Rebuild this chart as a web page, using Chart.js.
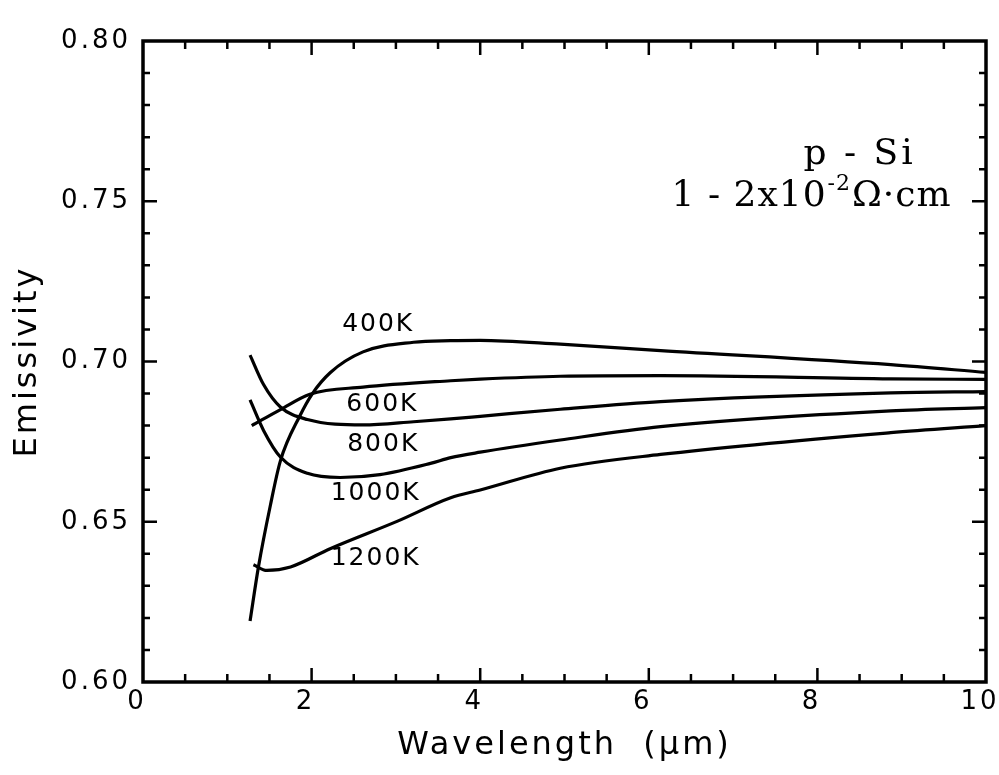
<!DOCTYPE html>
<html>
<head>
<meta charset="utf-8">
<script src="https://cdn.jsdelivr.net/npm/chart.js@4.4.1/dist/chart.umd.min.js"></script>
<style>
  html, body { margin: 0; padding: 0; background: #fff; }
  #wrap { width: 999px; height: 775px; }
</style>
</head>
<body>
<div id="wrap"><canvas id="emissivityChart" width="999" height="775"></canvas></div>
<script>
// Series (wavelength in um, emissivity)
const temps = ['400K', '600K', '800K', '1000K', '1200K'];

const wl400 = [1.27, 1.37, 1.51, 1.63, 1.86, 2.01, 2.22, 2.61, 3.21, 3.65, 4.0, 4.95, 6.14, 8.87, 10.0];
const em400 = [0.619, 0.636, 0.655, 0.669, 0.683, 0.690, 0.6965, 0.703, 0.706, 0.7065, 0.7066, 0.7054, 0.7034, 0.699, 0.6966];

const wl600 = [1.29, 1.63, 1.98, 2.61, 3.65, 4.0, 4.95, 6.14, 8.87, 10.0];
const em600 = [0.680, 0.685, 0.6898, 0.692, 0.694, 0.6945, 0.6954, 0.6956, 0.6946, 0.6944];

const wl800 = [1.27, 1.43, 1.63, 1.95, 2.61, 3.21, 3.65, 4.0, 4.95, 6.14, 8.87, 10.0];
const em800 = [0.702, 0.6928, 0.6858, 0.6819, 0.6802, 0.6812, 0.6821, 0.6829, 0.6851, 0.6875, 0.6902, 0.6906];

const wl1000 = [1.27, 1.43, 1.63, 1.95, 2.34, 2.81, 3.41, 3.65, 4.0, 4.95, 6.14, 8.87, 10.0];
const em1000 = [0.688, 0.6785, 0.6702, 0.6651, 0.6638, 0.6647, 0.6682, 0.670, 0.6717, 0.6755, 0.6797, 0.6846, 0.6856];

const wl1200 = [1.31, 1.47, 1.75, 2.22, 3.02, 3.65, 4.0, 4.95, 6.14, 8.87, 10.0];
const em1200 = [0.6366, 0.6348, 0.6359, 0.6416, 0.6502, 0.6575, 0.6599, 0.6667, 0.671, 0.6778, 0.680];

// where each temperature label sits (data coords)
const labelWl = [2.79, 2.84, 2.85, 2.76, 2.76];
const labelEm = [0.7115, 0.6866, 0.6741, 0.6588, 0.6385];

// axis ticks
const xTicks = [0, 2, 4, 6, 8, 10];
const yTicks = [0.60, 0.65, 0.70, 0.75, 0.80];

const toPoints = (xs, ys) => xs.map((v, i) => ({ x: v, y: ys[i] }));
const seriesWl = [wl400, wl600, wl800, wl1000, wl1200];
const seriesEm = [em400, em600, em800, em1000, em1200];

// frame, inward ticks, curve labels and the material note
const framePlugin = {
    id: 'framePlugin',
    beforeDraw(chart) { chart.ctx.letterSpacing = '3px'; },
    afterDraw(chart) { chart.ctx.letterSpacing = '0px'; },
    afterDatasetsDraw(chart) {
        const { ctx, chartArea: a, scales: { x, y } } = chart;
        ctx.save();
        ctx.strokeStyle = '#000';
        ctx.lineWidth = 3.5;
        ctx.strokeRect(a.left, a.top, a.right - a.left, a.bottom - a.top);

        ctx.lineWidth = 2.5;
        ctx.beginPath();
        for (let i = 1; i < 20; i++) {
            const px = x.getPixelForValue(i * 0.5);
            const len = i % 4 === 0 ? 14 : 8;
            ctx.moveTo(px, a.bottom); ctx.lineTo(px, a.bottom - len);
            ctx.moveTo(px, a.top); ctx.lineTo(px, a.top + len);
        }
        for (let i = 61; i < 80; i++) {
            const py = y.getPixelForValue(i / 100);
            const len = i % 5 === 0 ? 14 : 7;
            ctx.moveTo(a.left, py); ctx.lineTo(a.left + len, py);
            ctx.moveTo(a.right, py); ctx.lineTo(a.right - len, py);
        }
        ctx.stroke();

        // temperature labels
        ctx.fillStyle = '#000';
        ctx.font = '25px "DejaVu Sans"';
        ctx.letterSpacing = '2px';
        ctx.textAlign = 'center';
        ctx.textBaseline = 'middle';
        temps.forEach((t, i) => {
            ctx.fillText(t, x.getPixelForValue(labelWl[i]), y.getPixelForValue(labelEm[i]));
        });

        // material note, top right
        ctx.letterSpacing = '3px';
        ctx.font = '36px "DejaVu Serif"';
        ctx.fillText('p - Si', x.getPixelForValue(8.5), y.getPixelForValue(0.7645));

        ctx.letterSpacing = '1px';
        ctx.textAlign = 'left';
        let cx = x.getPixelForValue(6.27);
        const cy = y.getPixelForValue(0.7515);
        const parts = [
            { t: '1 - 2x10', size: 36, dy: 0 },
            { t: '-2', size: 22, dy: -12 },
            { t: '\u03A9\u00B7cm', size: 36, dy: 0 }
        ];
        parts.forEach(p => {
            ctx.font = p.size + 'px "DejaVu Serif"';
            ctx.fillText(p.t, cx, cy + p.dy);
            cx += ctx.measureText(p.t).width + 1;
        });
        ctx.restore();
    }
};

const ctx = document.getElementById('emissivityChart').getContext('2d');
new Chart(ctx, {
    type: 'line',
    data: {
        datasets: temps.map((t, i) => ({
            label: t,
            data: toPoints(seriesWl[i], seriesEm[i]),
            borderColor: '#000',
            borderWidth: 3.2,
            pointRadius: 0,
            fill: false,
            cubicInterpolationMode: 'monotone'
        }))
    },
    options: {
        responsive: false,
        animation: false,
        layout: { padding: { top: 41, right: 13, left: 0, bottom: 0 } },
        plugins: {
            legend: { display: false },
            tooltip: { enabled: false }
        },
        scales: {
            x: {
                type: 'linear',
                min: 0,
                max: 10,
                afterFit(scale) {
                    scale.height = 93;
                    scale.paddingLeft = 0;
                    scale.paddingRight = 0;
                },
                afterBuildTicks(scale) { scale.ticks = xTicks.map(v => ({ value: v })); },
                grid: { display: false, drawTicks: false },
                border: { display: false },
                ticks: {
                    color: '#000',
                    padding: 5,
                    labelOffset: -6,
                    maxRotation: 0,
                    font: { family: 'DejaVu Sans', size: 26 },
                    callback: v => String(v)
                },
                title: {
                    display: true,
                    text: 'Wavelength  (\u03BCm)',
                    color: '#000',
                    font: { family: 'DejaVu Sans', size: 32 },
                    padding: { top: 0, bottom: 10 }
                }
            },
            y: {
                type: 'linear',
                min: 0.60,
                max: 0.80,
                afterFit(scale) {
                    scale.width = 143;
                    scale.paddingTop = 0;
                    scale.paddingBottom = 0;
                },
                afterBuildTicks(scale) { scale.ticks = yTicks.map(v => ({ value: v })); },
                grid: { display: false, drawTicks: false },
                border: { display: false },
                ticks: {
                    color: '#000',
                    padding: 12,
                    font: { family: 'DejaVu Sans', size: 26 },
                    callback: v => v.toFixed(2)
                },
                title: {
                    display: true,
                    text: 'Emissivity',
                    color: '#000',
                    font: { family: 'DejaVu Sans', size: 32 },
                    padding: { top: 8, bottom: 0 }
                }
            }
        }
    },
    plugins: [framePlugin]
});
</script>
</body>
</html>
